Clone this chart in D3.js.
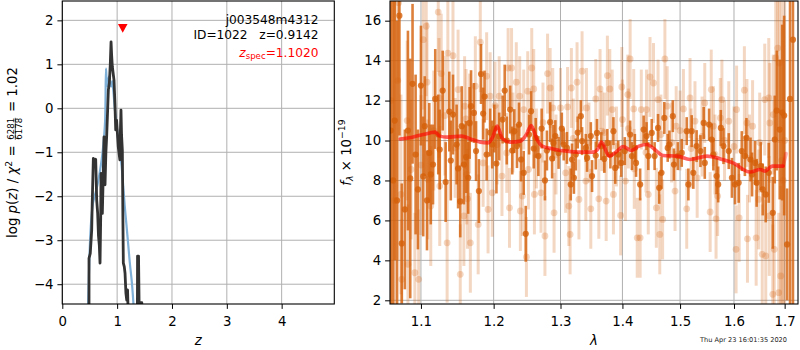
<!DOCTYPE html>
<html>
<head>
<meta charset="utf-8">
<script src="https://cdn.jsdelivr.net/npm/d3@7"></script>
<style>
  body { margin: 0; background: #fff; }
  svg { display: block; font-family: "DejaVu Sans", sans-serif; }
</style>
</head>
<body>
<svg id="fig" width="800" height="350"></svg>
<script>
// ---------- p(z) panel ----------
const zTicks = [0, 1, 2, 3, 4];
const logpTicks = [-4, -3, -2, -1, 0, 1, 2];

// smooth template-fit p(z)
const smoothZ = [0.45, 0.47, 0.49, 0.51, 0.53, 0.56, 0.60, 0.64, 0.69, 0.72, 0.75, 0.78, 0.797, 0.81, 0.825, 0.85, 0.87, 0.89, 0.91, 0.93, 0.96, 0.99, 1.02, 1.05, 1.08, 1.11, 1.14, 1.17, 1.20, 1.23, 1.27, 1.30, 1.33];
const smoothLogp = [-6.0, -4.45, -3.6, -2.9, -2.5, -2.15, -1.95, -1.75, -1.4, -1.15, -0.8, -0.3, 0.9, 0.6, 0.5, 0.72, 0.55, 0.5, 0.62, 0.4, -0.04, -0.38, -0.72, -1.0, -1.3, -1.75, -2.24, -2.65, -3.07, -3.5, -3.98, -4.5, -5.2];

// noisy grid p(z)
const gridZ = [0.40, 0.487, 0.487, 0.51, 0.536, 0.545, 0.566, 0.588, 0.609, 0.627, 0.645, 0.66, 0.675, 0.688, 0.70, 0.706, 0.718, 0.73, 0.745, 0.761, 0.779, 0.795, 0.81, 0.84, 0.858, 0.875, 0.889, 0.90, 0.912, 0.943, 0.96, 0.974, 0.99, 1.02, 1.05, 1.06, 1.07, 1.08, 1.095, 1.105, 1.113, 1.13, 1.144, 1.16, 1.175, 1.19, 1.20, 1.217, 1.36, 1.372, 1.39, 1.40, 1.405, 1.45, 1.46];
const gridLogp = [-9, -9, -3.41, -3.3, -2.77, -2.2, -1.14, -1.2, -1.16, -2.08, -2.39, -2.9, -3.11, -3.52, -2.5, -1.48, -2.3, -2.39, -1.6, -0.65, -1.74, -1.0, -0.61, 0.42, 0.57, 1.0, 1.51, 1.2, 0.95, 0.64, 0.1, -0.49, -0.27, -0.87, -1.17, -0.5, -0.04, -0.6, -0.95, -2.5, -3.52, -3.6, -3.75, -4.2, -4.36, -4.13, -4.6, -9, -9, -3.36, -3.36, -4.42, -4.42, -4.42, -9];

const zSpec = 1.102;
const zSpecMarkerLogp = 1.82;
const annotLines = ["j003548m4312", "ID=1022\u00a0\u00a0\u00a0z=0.9142"];
const zSpecLabel = "1.1020";

// ---------- spectrum panel ----------
const waveTicks = [1.1, 1.2, 1.3, 1.4, 1.5, 1.6, 1.7];
const fluxTicks = [2, 4, 6, 8, 10, 12, 14, 16];

// [wavelength (micron), flux, error]
const specA = [
  [1.061,10.5,12],[1.064,8.0,10],[1.066,11.0,7],[1.069,7.0,9],[1.072,16.25,6],[1.075,4.85,3],[1.079,6.55,4],[1.083,10.5,5],
  [1.086,8.1,6],[1.089,12.84,4],[1.093,9.3,4],[1.096,7.55,3],[1.100,12.75,3],[1.103,8.2,3],[1.105,10.72,2.5],[1.108,7.0,2.5],
  [1.111,9.38,2.5],[1.113,8.3,2.5],[1.116,8.8,2],[1.119,12.08,2.5],[1.123,10.3,2],[1.125,9.55,2],[1.129,12.5,2],[1.133,7.92,2],
  [1.138,11.45,2],[1.140,9.0,2],[1.143,11.3,2],[1.148,9.8,2],[1.150,8.6,2],[1.153,6.95,1.8],[1.155,10.72,2],[1.158,8.8,2],
  [1.161,9.17,1.8],[1.164,8.13,1.8],[1.166,10.88,1.8],[1.168,11.72,1.8],[1.172,11.38,1.5],[1.175,9.47,1.5],[1.179,7.47,1.6],
  [1.182,13.33,1.5],[1.185,11.35,1.3],[1.187,12.2,1.3],[1.190,9.3,1.3],[1.195,10.4,1.2],[1.198,9.8,1.2],[1.201,10.6,1.2],
  [1.204,8.85,1.5],[1.208,10.2,1.2],[1.213,11.05,1.2],[1.216,12.5,1.3],[1.219,10.0,1.2],[1.224,11.55,1.2],[1.227,9.5,1.2],
  [1.230,10.47,1.1],[1.234,9.72,1.1],[1.237,10.8,1.1],[1.240,9.05,1.1],[1.244,8.38,1.1],[1.247,5.33,1.4],[1.252,10.3,1.0],
  [1.255,11.47,1.0],[1.259,9.6,1.0],[1.262,10.13,1.0],[1.266,9.22,1.0],[1.271,10.6,1.0],[1.276,8.0,1.0],[1.279,9.5,1.0],
  [1.284,10.92,1.0],[1.287,9.1,1.0],[1.289,9.88,0.9],[1.292,10.22,0.8],[1.297,9.38,0.8],[1.302,10.6,0.8],[1.305,9.8,0.8],
  [1.310,9.63,0.8],[1.316,7.8,0.8],[1.318,9.05,0.8],[1.321,8.13,0.8],[1.324,9.3,0.8],[1.327,10.4,0.8],[1.332,11.22,0.8],
  [1.334,9.97,0.7],[1.340,9.63,0.7],[1.342,9.13,0.7],[1.348,10.22,0.7],[1.350,8.22,0.8],[1.356,9.25,0.7],[1.358,10.38,0.7],
  [1.365,9.72,0.7],[1.370,9.08,0.7],[1.375,9.88,0.7],[1.380,9.3,0.7],[1.385,10.47,0.7],[1.388,8.63,0.8],[1.393,9.3,0.7],
  [1.398,8.88,0.7],[1.404,9.47,0.7],[1.413,10.3,0.7],[1.416,9.22,0.7],[1.421,9.63,0.7],[1.423,8.88,0.7],[1.430,7.8,0.8],
  [1.436,10.55,0.7],[1.441,10.22,0.7],[1.444,9.22,0.7],[1.450,10.38,0.7],[1.455,9.22,0.7],[1.461,10.63,0.7],[1.463,7.63,0.8],
  [1.467,8.38,0.8],[1.472,11.13,0.8],[1.478,9.63,0.7],[1.481,9.8,0.7],[1.487,11.22,0.8],[1.489,8.8,0.8],[1.496,9.22,0.7],
  [1.503,9.38,0.7],[1.512,10.47,0.7],[1.515,7.8,0.8],[1.521,10.47,0.8],[1.524,8.38,0.8],[1.530,9.72,0.8],[1.537,9.47,0.8],
  [1.543,10.88,0.8],[1.545,8.88,0.8],[1.553,10.8,0.8],[1.558,10.05,0.8],[1.561,9.3,0.8],[1.567,8.22,0.9],[1.570,7.8,0.9],
  [1.575,10.63,0.9],[1.580,9.72,0.9],[1.590,9.47,0.9],[1.596,8.13,1.0],[1.602,7.8,1.0],[1.609,7.88,1.0],[1.615,9.47,1.0],
  [1.621,9.22,1.0],[1.624,10.13,1.0],[1.632,9.05,1.1],[1.635,8.3,1.1],[1.641,8.88,1.1],[1.644,7.88,1.2],[1.652,8.72,1.2],
  [1.656,7.55,1.3],[1.662,7.3,1.4],[1.668,8.38,1.5],[1.676,6.38,1.8],[1.680,10.05,2.2],[1.684,11.5,3],[1.690,10.55,3.5],
  [1.695,11.4,4.4],[1.699,11.25,5],[1.705,4.8,2.8],[1.711,12.08,20],[1.717,15.05,20]
];

// second, noisier extraction of the same spectrum
const specB = [
  [1.061,12,12],[1.066,7,10],[1.070,13,9],[1.071,16.9,4],[1.074,7.3,5],[1.075,3.05,3],[1.082,11,4],[1.083,3.8,3],
  [1.087,8.55,3.5],[1.092,3.38,3],[1.097,3.05,3.5],[1.100,8.77,3.5],[1.103,15.05,3.5],[1.107,15.72,3.5],[1.108,12.92,3],
  [1.109,8.05,3],[1.113,6.72,3],[1.117,10.5,3],[1.123,16.43,3],[1.124,12.13,3],[1.125,7.72,3],[1.127,13.35,3],[1.132,11.25,3],
  [1.135,4.88,3],[1.136,14.38,3],[1.143,14.25,3],[1.146,9.63,2.5],[1.150,12.55,3],[1.153,3.3,2.5],[1.158,6.22,2.5],
  [1.159,11.72,2.5],[1.161,11.08,2.5],[1.162,8.3,2.5],[1.163,7.08,2.5],[1.166,10.85,2.5],[1.167,4.88,2.5],[1.174,12.72,2.5],
  [1.178,5.8,2.5],[1.181,14.92,2.5],[1.185,8.88,2.2],[1.190,13.22,2.2],[1.192,6.55,2.2],[1.195,12.22,2.2],[1.198,7.38,2.2],
  [1.202,11.75,2.2],[1.205,9.8,2],[1.208,12.22,2],[1.212,8.22,2],[1.219,9.38,2],[1.221,13.63,2],[1.223,6.63,2],[1.226,13.63,2],
  [1.228,10.4,2],[1.233,12.92,2],[1.238,12.22,2],[1.239,6.47,2],[1.242,7.22,2],[1.244,11.55,2],[1.248,4.17,2],[1.250,12.47,2],
  [1.251,8.55,2],[1.256,13.63,2],[1.259,12.58,2],[1.260,7.3,2],[1.263,9.6,2],[1.270,7.38,2],[1.273,10.9,2],[1.276,5.22,2],
  [1.280,13.35,2],[1.284,12.63,2],[1.288,11.63,2],[1.290,6.38,2],[1.293,9.3,2],[1.300,11.63,2],[1.308,8.38,2],[1.311,11.68,2],
  [1.313,6.72,2],[1.315,5.3,2],[1.317,12.63,2],[1.320,10.1,2],[1.326,12.92,2],[1.329,7.05,2],[1.334,13.47,2],[1.340,7.97,2],
  [1.341,11.63,2],[1.345,9.9,2],[1.348,6.58,2],[1.356,12.08,2],[1.361,7.08,2],[1.363,12.58,2],[1.366,10.47,2],[1.370,10.4,2],
  [1.373,6.97,2],[1.375,13.25,2],[1.379,12.58,2],[1.383,11.55,2],[1.385,7.3,2],[1.390,9.7,2],[1.397,6.25,2],[1.399,12.68,2],
  [1.400,11.05,2],[1.405,7.97,2],[1.409,12.3,2],[1.410,10.6,2],[1.413,14.08,2],[1.419,11.58,2],[1.420,8.58,2],[1.425,5.13,2],
  [1.430,5.13,2],[1.432,11.55,2],[1.440,9.4,2],[1.441,11.55,2],[1.444,7.3,2],[1.447,13.18,2],[1.453,12.88,2],[1.458,6.63,2],
  [1.461,12.05,2],[1.464,5.3,2],[1.466,10.3,2],[1.469,6.05,2],[1.473,14.08,2],[1.477,11.72,2],[1.485,9.9,2],[1.491,7.47,2],
  [1.493,10.72,2],[1.500,10.5,2],[1.506,11.58,2],[1.512,6.58,2],[1.518,12.13,2],[1.520,9.6,2],[1.527,10.97,2],[1.531,8.13,2],
  [1.540,10.2,2],[1.545,11.88,2],[1.555,6.42,2],[1.557,12.55,2],[1.561,10.72,2],[1.564,9.3,2],[1.566,6.08,2],[1.569,7.22,2],
  [1.574,11.13,2],[1.577,12.05,2],[1.582,10.0,2],[1.590,10.97,2],[1.600,9.7,2],[1.604,4.55,2.2],[1.605,11.55,2.2],
  [1.610,6.13,2.2],[1.620,12.52,2.2],[1.625,10.88,2.2],[1.626,5.08,2.2],[1.630,9.1,2.2],[1.636,10.72,2.3],[1.643,5.13,2.4],
  [1.648,7.05,2.5],[1.650,9.9,2.5],[1.655,4.3,2.5],[1.660,12.05,2.8],[1.662,4.22,2.8],[1.668,12.13,3],[1.669,6.22,3],
  [1.670,10.88,3],[1.676,2.3,3.5],[1.677,11.3,3],[1.679,4.55,3.5],[1.682,14.13,4],[1.686,14.63,4],[1.688,2.38,4],
  [1.689,13.88,4],[1.692,3.22,4.5],[1.694,9,9],[1.697,8,8],[1.700,10,10]
];

// best-fit template
const modelWave = [1.073, 1.090, 1.103, 1.119, 1.125, 1.135, 1.155, 1.167, 1.181, 1.192, 1.199, 1.205, 1.213, 1.224, 1.239, 1.248, 1.255, 1.264, 1.272, 1.288, 1.310, 1.331, 1.352, 1.360, 1.365, 1.378, 1.391, 1.401, 1.415, 1.428, 1.442, 1.452, 1.470, 1.495, 1.518, 1.549, 1.574, 1.598, 1.631, 1.651, 1.661, 1.675, 1.697];
const modelFlux = [10.08, 10.18, 10.3, 10.42, 10.22, 10.17, 10.22, 10.08, 9.92, 9.88, 10.2, 10.72, 10.08, 9.92, 9.97, 10.3, 10.75, 10.05, 9.72, 9.58, 9.47, 9.42, 9.42, 9.6, 9.92, 9.22, 9.47, 9.7, 9.5, 9.72, 9.8, 9.63, 9.25, 9.22, 9.05, 9.22, 9.08, 8.88, 8.42, 8.55, 8.47, 8.72, 8.72];
const modelTail = [[1.697, 8.72], [1.703, 9.35]];

const stamp = "Thu Apr 23 16:01:35 2020";

// ---------- layout ----------
const NB = "\u00a0";
const svg = d3.select("#fig");
const boxL = { x0: 62.3, x1: 334.3, y0: 1, y1: 304 };
const boxR = { x0: 390, x1: 798, y0: 1, y1: 304 };
const tickFont = 13.3;
const gridColor = "#b0b0b0";
const orange = "#d5600a";

const zScale = d3.scaleLinear().domain([0, 4.96]).range([boxL.x0, boxL.x1]);
const pScale = d3.scaleLinear().domain([-4.45, 2.44]).range([boxL.y1, boxL.y0]);
const wScale = d3.scaleLog().domain([1.06, 1.7274]).range([boxR.x0, boxR.x1]);
const fScale = d3.scaleLinear().domain([1.815, 16.985]).range([boxR.y1, boxR.y0]);

function setupPanel(box, xs, ys, xt, yt, id) {
  svg.append("clipPath").attr("id", id).append("rect")
    .attr("x", box.x0).attr("y", box.y0)
    .attr("width", box.x1 - box.x0).attr("height", box.y1 - box.y0);
  const grid = svg.append("g").attr("stroke", gridColor).attr("stroke-width", 1);
  xt.forEach(t => grid.append("line")
    .attr("x1", xs(t)).attr("x2", xs(t)).attr("y1", box.y0).attr("y2", box.y1));
  yt.forEach(t => grid.append("line")
    .attr("y1", ys(t)).attr("y2", ys(t)).attr("x1", box.x0).attr("x2", box.x1));
  return svg.append("g").attr("clip-path", `url(#${id})`);
}

function drawAxes(box, xs, ys, xt, yt, xf, yf) {
  const gx = svg.append("g").attr("transform", `translate(0,${box.y1})`)
    .call(d3.axisBottom(xs).tickValues(xt).tickFormat(xf).tickSize(4.9).tickPadding(3.5));
  const gy = svg.append("g").attr("transform", `translate(${box.x0},0)`)
    .call(d3.axisLeft(ys).tickValues(yt).tickFormat(yf).tickSize(4.9).tickPadding(3.9));
  [gx, gy].forEach(g => {
    g.select(".domain").remove();
    g.selectAll(".tick line").attr("stroke", "#000").attr("stroke-width", 1);
    g.selectAll("text").attr("font-size", tickFont).attr("font-family", "DejaVu Sans").attr("fill", "#000");
  });
  gx.selectAll("text").attr("dy", null).attr("y", 22);
  svg.append("rect").attr("x", box.x0).attr("y", box.y0)
    .attr("width", box.x1 - box.x0).attr("height", box.y1 - box.y0)
    .attr("fill", "none").attr("stroke", "#000").attr("stroke-width", 1.1);
}

// ---------- left panel: p(z) ----------
const left = setupPanel(boxL, zScale, pScale, zTicks, logpTicks, "clipL");

left.append("path")
  .datum(d3.zip(smoothZ, smoothLogp))
  .attr("fill", "none").attr("stroke", "#7fb0d8").attr("stroke-width", 2.2)
  .attr("stroke-linejoin", "round")
  .attr("d", d3.line().x(d => zScale(d[0])).y(d => pScale(d[1])).curve(d3.curveCatmullRom));

left.append("path")
  .datum(d3.zip(gridZ, gridLogp))
  .attr("fill", "none").attr("stroke", "#333").attr("stroke-width", 2.8)
  .attr("stroke-linejoin", "round")
  .attr("d", d3.line().x(d => zScale(d[0])).y(d => pScale(d[1])));

// spectroscopic redshift marker
{
  const cx = zScale(zSpec), cy = pScale(zSpecMarkerLogp);
  left.append("path")
    .attr("d", `M${cx - 4.8},${cy - 4.3}L${cx + 4.8},${cy - 4.3}L${cx},${cy + 4.4}Z`)
    .attr("fill", "#ff0000");
}

drawAxes(boxL, zScale, pScale, zTicks, logpTicks, d3.format("d"), d3.format("d"));

// annotations
const annot = svg.append("g").attr("font-size", 12.2).attr("text-anchor", "end");
annot.append("text").attr("x", 318.5).attr("y", 23.6).text(annotLines[0]);
annot.append("text").attr("x", 318.5).attr("y", 38.6).text(annotLines[1]);
{
  const t = annot.append("text").attr("x", 318.5).attr("y", 57).attr("fill", "#ff0000");
  t.append("tspan").attr("font-style", "italic").text("z");
  t.append("tspan").attr("font-size", 8.6).attr("dy", 2.2).text("spec");
  t.append("tspan").attr("dy", -2.2).text("=" + zSpecLabel);
}

// axis titles for the p(z) panel
svg.append("text").attr("x", (boxL.x0 + boxL.x1) / 2).attr("y", 344.5)
  .attr("text-anchor", "middle").attr("font-size", 13.3).attr("font-style", "italic").text("z");

{
  const g = svg.append("g");
  const t1 = g.append("text").attr("font-size", 13.3);
  t1.append("tspan").text("log" + NB);
  t1.append("tspan").attr("font-style", "italic").text("p");
  t1.append("tspan").text("(");
  t1.append("tspan").attr("font-style", "italic").text("z");
  t1.append("tspan").text(")" + NB + "/" + NB);
  t1.append("tspan").attr("font-style", "italic").text("χ");
  t1.append("tspan").attr("font-size", 9.3).attr("dy", -5.2).text("2");
  t1.append("tspan").attr("dy", 5.2).text(NB + "=" + NB);
  const w1 = t1.node().getComputedTextLength();
  const fr = g.append("g").attr("transform", `translate(${w1 + 1.5},0)`);
  const num = fr.append("text").attr("font-size", 8.6).attr("y", -3.3).text("6281");
  const fw = num.node().getComputedTextLength();
  fr.append("text").attr("font-size", 8.6).attr("y", 5.0).text("6178");
  fr.append("line").attr("x1", 0).attr("x2", fw).attr("y1", -1.9).attr("y2", -1.9)
    .attr("stroke", "#000").attr("stroke-width", 0.7);
  const t2 = g.append("text").attr("font-size", 13.3).attr("x", w1 + fw + 3)
    .text(NB + "=" + NB + "1.02");
  const w2 = t2.node().getComputedTextLength();
  const total = w1 + fw + 3 + w2;
  g.attr("transform", `translate(17.2,${(boxL.y0 + boxL.y1) / 2}) rotate(-90) translate(${-total / 2},0)`);
}

// ---------- right panel: spectrum ----------
const right = setupPanel(boxR, wScale, fScale, waveTicks, fluxTicks, "clipR");

function errorbars(g, data, opacity, barW, r) {
  const grp = g.append("g").attr("fill", orange).attr("stroke", orange);
  grp.selectAll("line").data(data).join("line")
    .attr("x1", d => wScale(d[0])).attr("x2", d => wScale(d[0]))
    .attr("y1", d => fScale(d[1] - d[2])).attr("y2", d => fScale(d[1] + d[2]))
    .attr("stroke-width", barW).attr("stroke-opacity", opacity);
  grp.selectAll("circle").data(data).join("circle")
    .attr("cx", d => wScale(d[0])).attr("cy", d => fScale(d[1])).attr("r", r)
    .attr("stroke", "none").attr("fill-opacity", opacity);
}

errorbars(right, specB, 0.25, 3, 3.4);
errorbars(right, specA, 0.8, 2.6, 3.1);

right.append("path")
  .datum(d3.zip(modelWave, modelFlux))
  .attr("fill", "none").attr("stroke", "#ff0000").attr("stroke-opacity", 0.62)
  .attr("stroke-width", 3.6).attr("stroke-linejoin", "round").attr("stroke-linecap", "round")
  .attr("d", d3.line().x(d => wScale(d[0])).y(d => fScale(d[1])).curve(d3.curveMonotoneX));
right.append("path")
  .datum(modelTail)
  .attr("fill", "none").attr("stroke", "#ff0000").attr("stroke-opacity", 0.3)
  .attr("stroke-width", 3.6).attr("stroke-linecap", "round")
  .attr("d", d3.line().x(d => wScale(d[0])).y(d => fScale(d[1])));

drawAxes(boxR, wScale, fScale, waveTicks, fluxTicks, d3.format(".1f"), d3.format("d"));

svg.append("text").attr("x", (boxR.x0 + boxR.x1) / 2).attr("y", 345)
  .attr("text-anchor", "middle").attr("font-size", 13.3).attr("font-style", "italic").text("λ");

{
  const g = svg.append("g");
  const t = g.append("text").attr("font-size", 13.3);
  t.append("tspan").attr("font-style", "italic").text("f");
  t.append("tspan").attr("font-style", "italic").attr("font-size", 9.3).attr("dy", 2.8).text("λ");
  t.append("tspan").attr("dy", -2.8).text(NB + "×" + NB + "10");
  t.append("tspan").attr("font-size", 9.3).attr("dy", -5.4).text("−19");
  const w = t.node().getComputedTextLength();
  g.attr("transform", `translate(350.5,${(boxR.y0 + boxR.y1) / 2}) rotate(-90) translate(${-w / 2},0)`);
}

svg.append("text").attr("x", 787).attr("y", 342).attr("text-anchor", "end")
  .attr("font-size", 6.6).attr("fill", "#222").text(stamp);
</script>
</body>
</html>
